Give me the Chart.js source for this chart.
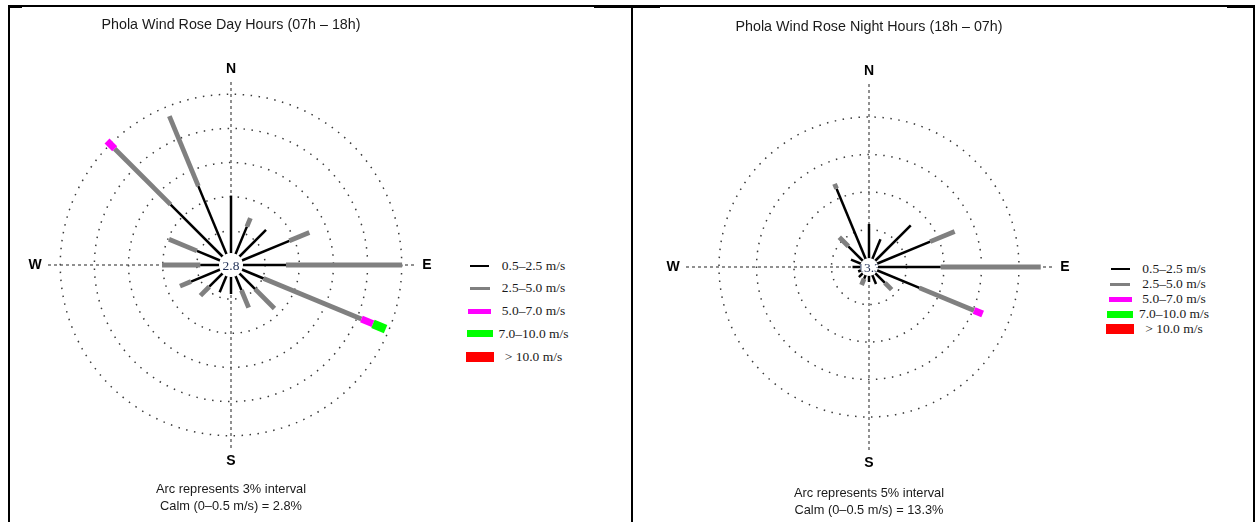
<!DOCTYPE html>
<html>
<head>
<meta charset="utf-8">
<script src="https://cdn.jsdelivr.net/npm/chart.js@4.4.0/dist/chart.umd.min.js"></script>
<style>
  html, body { margin: 0; padding: 0; background: #fff; }
  body { width: 1258px; height: 522px; position: relative; overflow: hidden; }
  #frame { position: absolute; left: 8px; top: 5px; width: 1247px; height: 540px; border: 2px solid #000; box-sizing: border-box; }
  #divider { position: absolute; left: 631px; top: 5px; width: 2px; height: 540px; background: #000; }
  .tick { position: absolute; height: 3px; top: 5px; background: #000; }
  canvas { position: absolute; top: 8px; }
  #dayCanvas { left: 11px; }
  #nightCanvas { left: 649px; }
  .legend { position: absolute; left: 0; top: 0; font-family: "Liberation Serif", "Times New Roman", serif; font-size: 13.5px; color: #1a1a1a; }
  .legend .mk, .legend .tx { position: absolute; }
  .legend .tx { width: 120px; text-align: center; line-height: 16px; white-space: nowrap; }
</style>
</head>
<body>
<div id="frame"></div>
<div id="divider"></div>
<div class="tick" style="left:8px;width:14px"></div>
<div class="tick" style="left:594px;width:66px"></div>
<div class="tick" style="left:1227px;width:28px"></div>
<canvas id="dayCanvas" width="440" height="514"></canvas>
<canvas id="nightCanvas" width="440" height="514"></canvas>
<div class="legend" id="dayLegend"></div>
<div class="legend" id="nightLegend"></div>
<script>
// wind directions, clockwise from north
const directions = ['N', 'NNE', 'NE', 'ENE', 'E', 'ESE', 'SE', 'SSE', 'S', 'SSW', 'SW', 'WSW', 'W', 'WNW', 'NW', 'NNW']
const speedClasses = ['0.5–2.5 m/s', '2.5–5.0 m/s', '5.0–7.0 m/s', '7.0–10.0 m/s', '> 10.0 m/s']
const classColors = ['#000000', '#808080', '#ff00ff', '#00ff00', '#ff0000']

// day hours (07h - 18h), frequency % per speed class
const dayLight = [6.1, 3.65, 4.35, 5.55, 4.83, 3.1, 3.0, 2.4, 2.55, 2.6, 2.7, 3.8, 2.7, 3.24, 7.5, 7.5]
const dayModerate = [0, 0.8, 0, 1.9, 10.2, 9.3, 2.4, 1.65, 0, 0, 1.1, 1.05, 3.36, 2.66, 6.95, 6.65]
const dayFresh = [0, 0, 0, 0, 0, 1.1, 0, 0, 0, 0, 0, 0, 0, 0, 0.95, 0]
const dayStrong = [0, 0, 0, 0, 0, 1.2, 0, 0, 0, 0, 0, 0, 0, 0, 0, 0]
const dayGale = [0, 0, 0, 0, 0, 0, 0, 0, 0, 0, 0, 0, 0, 0, 0, 0]
const dayCalm = 2.8
const dayInterval = 3

// night hours (18h - 07h)
const nightLight = [5.73, 4.0, 7.87, 8.83, 9.56, 7.28, 3.0, 2.44, 2.0, 1.7, 1.9, 1.56, 2.2, 2.6, 3.9, 11.3]
const nightModerate = [0, 0, 0, 3.53, 13.34, 7.88, 1.27, 0, 0, 0.9, 0, 0, 0, 0, 1.7, 0.7]
const nightFresh = [0, 0, 0, 0, 0, 1.24, 0, 0, 0, 0, 0, 0, 0, 0, 0, 0]
const nightStrong = [0, 0, 0, 0, 0, 0, 0, 0, 0, 0, 0, 0, 0, 0, 0, 0]
const nightGale = [0, 0, 0, 0, 0, 0, 0, 0, 0, 0, 0, 0, 0, 0, 0, 0]
const nightCalm = 13.3
const nightInterval = 5

const spokeWidths = [2.5, 4.8, 7, 9, 11]
const legendLen = [19, 20, 23, 26, 28]
const legendThick = [2, 3, 5, 7, 10]

// stacks the classes so each dataset ends where the next begins
function cumulative (series, k) {
  return directions.map((d, i) => {
    let total = 0
    for (let j = 0; j <= k; j++) total += series[j][i]
    return total
  })
}

const rosePlugin = {
  id: 'rose',
  afterDatasetsDraw (chart, args, opts) {
    const ctx = chart.ctx
    const r = chart.scales.r
    ctx.save()
    ctx.lineCap = 'butt'
    chart.data.datasets.forEach((ds, d) => {
      const pts = chart.getDatasetMeta(d).data
      const prev = d > 0 ? chart.getDatasetMeta(d - 1).data : null
      pts.forEach((p, i) => {
        if (!ds.seg[i]) return
        const a = prev ? prev[i] : { x: r.xCenter, y: r.yCenter }
        ctx.strokeStyle = ds.borderColor
        ctx.lineWidth = ds.borderWidth
        ctx.beginPath()
        ctx.moveTo(a.x, a.y)
        ctx.lineTo(p.x, p.y)
        ctx.stroke()
      })
    })

    // calm circle
    ctx.beginPath()
    ctx.arc(r.xCenter, r.yCenter, opts.calmRadius, 0, Math.PI * 2)
    ctx.fillStyle = '#fff'
    ctx.fill()
    ctx.save()
    ctx.clip()
    ctx.fillStyle = '#1f2f55'
    ctx.font = '13.5px "Liberation Serif", serif'
    ctx.textAlign = 'center'
    ctx.textBaseline = 'middle'
    ctx.fillText(String(opts.calm), r.xCenter, r.yCenter + 1)
    ctx.restore()

    // N E S W
    ctx.fillStyle = '#000'
    ctx.font = 'bold 14px "Liberation Sans", Arial, sans-serif'
    ctx.textAlign = 'center'
    ctx.textBaseline = 'middle'
    chart.data.labels.forEach((lab, i) => {
      if (i % 4 !== 0) return
      const pos = r.getPointPosition(i, r.drawingArea + 10)
      ctx.fillText(lab, pos.x, pos.y)
    })
    ctx.restore()
  }
}

function roseChart (canvasId, cfg) {
  return new Chart(document.getElementById(canvasId), {
    type: 'radar',
    data: {
      labels: directions,
      datasets: speedClasses.map((name, k) => ({
        label: name,
        data: cumulative(cfg.series, k),
        seg: cfg.series[k],
        borderColor: classColors[k],
        borderWidth: spokeWidths[k],
        backgroundColor: 'transparent',
        showLine: false,
        fill: false,
        pointRadius: 0,
        pointHoverRadius: 0,
        pointHitRadius: 0
      }))
    },
    options: {
      responsive: false,
      animation: false,
      events: [],
      plugins: {
        legend: { display: false },
        tooltip: { enabled: false },
        title: {
          display: true,
          text: cfg.title,
          color: '#1a1a1a',
          font: { family: '"Liberation Sans", Arial, sans-serif', size: 14.3, weight: 'normal', lineHeight: 1.2 },
          padding: cfg.titlePad
        },
        subtitle: {
          display: true,
          position: 'bottom',
          text: ['Arc represents ' + cfg.interval + '% interval', 'Calm (0–0.5 m/s) = ' + cfg.calm + '%'],
          color: '#1a1a1a',
          font: { family: '"Liberation Sans", Arial, sans-serif', size: 12.8, weight: 'normal', lineHeight: 1.3 },
          padding: cfg.subPad
        },
        rose: { calm: cfg.calm, calmRadius: cfg.calmRadius }
      },
      scales: {
        r: {
          min: 0,
          max: cfg.max,
          bounds: 'data',
          ticks: { display: false, stepSize: cfg.interval, includeBounds: false },
          pointLabels: { display: false },
          grid: { circular: true, color: '#3a3a3a', lineWidth: 1.5 },
          border: { dash: [1.5, 6.5] },
          angleLines: {
            color: (c) => c.index % 4 === 0 ? '#555' : 'rgba(0,0,0,0)',
            lineWidth: (c) => c.index % 4 === 0 ? 1.3 : 0,
            borderDash: [3, 3]
          }
        }
      }
    },
    plugins: [rosePlugin]
  })
}

function buildLegend (id, markerX, textX, y0, gap) {
  const el = document.getElementById(id)
  speedClasses.forEach((name, k) => {
    const y = y0 + k * gap
    const mk = document.createElement('div')
    mk.className = 'mk'
    mk.style.left = (markerX - legendLen[k] / 2) + 'px'
    mk.style.top = (y - legendThick[k] / 2) + 'px'
    mk.style.width = legendLen[k] + 'px'
    mk.style.height = legendThick[k] + 'px'
    mk.style.background = classColors[k]
    el.appendChild(mk)
    const tx = document.createElement('div')
    tx.className = 'tx'
    tx.textContent = name
    tx.style.left = (textX - 60) + 'px'
    tx.style.top = (y - 8) + 'px'
    el.appendChild(tx)
  })
}

roseChart('dayCanvas', {
  title: 'Phola Wind Rose Day Hours (07h – 18h)',
  series: [dayLight, dayModerate, dayFresh, dayStrong, dayGale],
  calm: dayCalm,
  interval: dayInterval,
  max: 16.34,
  calmRadius: 12,
  titlePad: { top: 8.4, bottom: 46.4 },
  subPad: { top: 29, bottom: 7.7 }
})

roseChart('nightCanvas', {
  title: 'Phola Wind Rose Night Hours (18h – 07h)',
  series: [nightLight, nightModerate, nightFresh, nightStrong, nightGale],
  calm: nightCalm,
  interval: nightInterval,
  max: 24.8,
  calmRadius: 9,
  titlePad: { top: 10.1, bottom: 46.7 },
  subPad: { top: 31, bottom: 3.7 }
})

buildLegend('dayLegend', 479.5, 533.5, 265.5, 22.8)
buildLegend('nightLegend', 1120, 1174, 269.3, 14.9)
</script>
</body>
</html>
